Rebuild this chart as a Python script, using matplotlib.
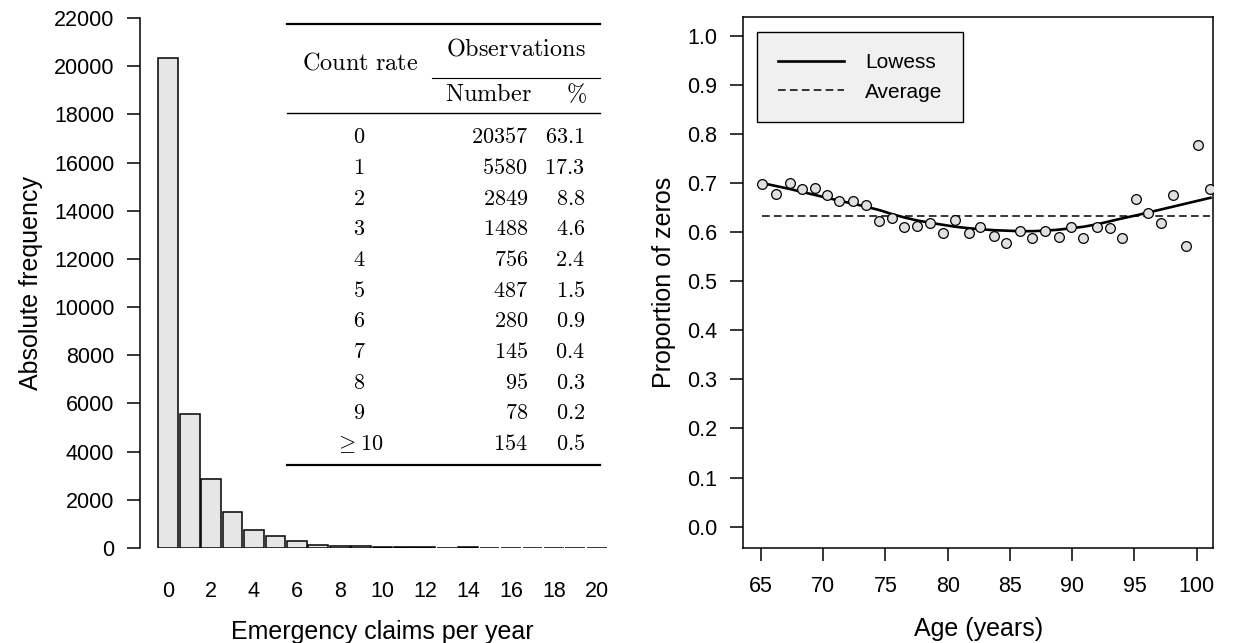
import numpy as np
import matplotlib
matplotlib.use("Agg")
import matplotlib.pyplot as plt
from matplotlib.lines import Line2D

plt.rcParams['font.family'] = ['Liberation Sans', 'DejaVu Sans']
plt.rcParams['mathtext.fontset'] = 'cm'

# ---- data: left panel (claims per year) ----
claims = np.arange(0, 21)
freq = [20357, 5580, 2849, 1488, 756, 487, 280, 145, 95, 78,
        40, 35, 35, 5, 30, 3, 2, 1, 1, 1, 1]

table_rate = ['0', '1', '2', '3', '4', '5', '6', '7', '8', '9', r'\geq 10']
table_number = [20357, 5580, 2849, 1488, 756, 487, 280, 145, 95, 78, 154]
table_pct = [63.1, 17.3, 8.8, 4.6, 2.4, 1.5, 0.9, 0.4, 0.3, 0.2, 0.5]

# ---- data: right panel (proportion of zeros by age) ----
age = [65.1, 66.2, 67.3, 68.3, 69.3, 70.3, 71.3, 72.4, 73.4, 74.5,
       75.5, 76.5, 77.5, 78.6, 79.6, 80.6, 81.7, 82.6, 83.7, 84.7,
       85.8, 86.8, 87.8, 88.9, 89.9, 90.9, 92.0, 93.0, 94.0, 95.1,
       96.1, 97.1, 98.1, 99.1, 100.1, 101.1]
prop_zero = [0.698, 0.677, 0.700, 0.687, 0.689, 0.676, 0.664, 0.664, 0.656, 0.622,
             0.628, 0.611, 0.613, 0.619, 0.599, 0.625, 0.599, 0.610, 0.593, 0.577,
             0.602, 0.588, 0.603, 0.591, 0.611, 0.588, 0.611, 0.608, 0.588, 0.667,
             0.639, 0.619, 0.676, 0.571, 0.777, 0.687]
lowess = [0.700, 0.694, 0.688, 0.682, 0.676, 0.670, 0.664, 0.658, 0.652, 0.645,
          0.637, 0.630, 0.624, 0.619, 0.615, 0.611, 0.608, 0.606, 0.604, 0.603,
          0.602, 0.602, 0.603, 0.605, 0.608, 0.611, 0.616, 0.622, 0.628, 0.634,
          0.640, 0.646, 0.652, 0.658, 0.664, 0.670]
average = 0.633

W, H = 1238, 643
fig = plt.figure(figsize=(W / 100, H / 100), dpi=100)


def fx(px):
    return px / W


def fy(py):
    return 1 - py / H


TICK_FS = 15.5
LAB_FS = 18

# ---------------- left panel ----------------
ax1 = fig.add_axes([fx(140), fy(548), fx(625) - fx(140), fy(18) - fy(548)])
ax1.bar(claims, freq, width=0.92, color='#e6e6e6', edgecolor='black', linewidth=1.1)
ax1.set_xlim(-1.32, 21.32)
ax1.set_ylim(0, 22000)
ax1.set_yticks(np.arange(0, 22001, 2000))
ax1.set_xticks(np.arange(0, 21, 2))
for s in ['top', 'right', 'bottom']:
    ax1.spines[s].set_visible(False)
ax1.spines['left'].set_linewidth(1.1)
ax1.tick_params(axis='y', length=9.5, width=1.1, pad=9, labelsize=TICK_FS)
ax1.tick_params(axis='x', length=0, pad=24, labelsize=TICK_FS)
ax1.set_xlabel('Emergency claims per year', fontsize=LAB_FS, labelpad=13)
ax1.set_ylabel('Absolute frequency', fontsize=LAB_FS, labelpad=8)

# booktabs-like table
rule_l, rule_r = 287, 600
fig.add_artist(Line2D([fx(rule_l), fx(rule_r)], [fy(24), fy(24)], color='black', lw=1.6))
fig.add_artist(Line2D([fx(432), fx(rule_r)], [fy(78), fy(78)], color='black', lw=0.8))
fig.add_artist(Line2D([fx(rule_l), fx(rule_r)], [fy(113), fy(113)], color='black', lw=1.0))
fig.add_artist(Line2D([fx(rule_l), fx(rule_r)], [fy(465), fy(465)], color='black', lw=1.6))

tfs = 16
hfs = 17.5
fig.text(fx(360), fy(69), r'$\mathrm{Count\ rate}$', ha='center', va='baseline', fontsize=hfs)
fig.text(fx(516), fy(55), r'$\mathrm{Observations}$', ha='center', va='baseline', fontsize=hfs)
fig.text(fx(532), fy(101), r'$\mathrm{Number}$', ha='right', va='baseline', fontsize=hfs)
fig.text(fx(587), fy(101), r'$\%$', ha='right', va='baseline', fontsize=hfs)
for i, (r, n, p) in enumerate(zip(table_rate, table_number, table_pct)):
    base = 143.3 + i * 30.66
    fig.text(fx(359), fy(base), '$' + r + '$', ha='center', va='baseline', fontsize=tfs)
    fig.text(fx(528), fy(base), '$%d$' % n, ha='right', va='baseline', fontsize=tfs)
    fig.text(fx(585), fy(base), '$%.1f$' % p, ha='right', va='baseline', fontsize=tfs)

# ---------------- right panel ----------------
ax2 = fig.add_axes([fx(743.3), fy(547.7), fx(1213.3) - fx(743.3), fy(16.7) - fy(547.7)])
ax2.plot([age[0], age[-1]], [average, average], color='black', lw=1.1,
         dashes=(5.0, 2.8), label='Average', zorder=2)
ax2.plot(age, lowess, color='black', lw=1.9, label='Lowess', zorder=3)
ax2.plot(age, prop_zero, 'o', ms=7, mfc='#e0e0e0', mec='black', mew=0.9, zorder=4)
ax2.set_xlim(63.58, 101.33)
ax2.set_ylim(-0.043, 1.039)
ax2.set_xticks(np.arange(65, 101, 5))
ax2.set_yticks(np.arange(0, 1.01, 0.1))
ax2.set_yticklabels(['%.1f' % v for v in np.arange(0, 1.01, 0.1)])
for s in ax2.spines.values():
    s.set_linewidth(1.1)
ax2.tick_params(axis='x', length=9.5, width=1.1, pad=11, labelsize=TICK_FS)
ax2.tick_params(axis='y', length=9.5, width=1.1, pad=9, labelsize=TICK_FS)
ax2.set_xlabel('Age (years)', fontsize=LAB_FS, labelpad=14)
ax2.set_ylabel('Proportion of zeros', fontsize=LAB_FS, labelpad=8)

h, l = ax2.get_legend_handles_labels()
leg = ax2.legend([h[1], h[0]], [l[1], l[0]], loc='upper left', bbox_to_anchor=(0.0285, 0.9706),
                 borderaxespad=0, fontsize=15, fancybox=False, edgecolor='black',
                 facecolor='#f0f0f0', framealpha=1, handlelength=3.2, handletextpad=1.0,
                 labelspacing=0.5, borderpad=1.0)
leg.get_frame().set_linewidth(1.0)

fig.savefig('out.png', dpi=100)
